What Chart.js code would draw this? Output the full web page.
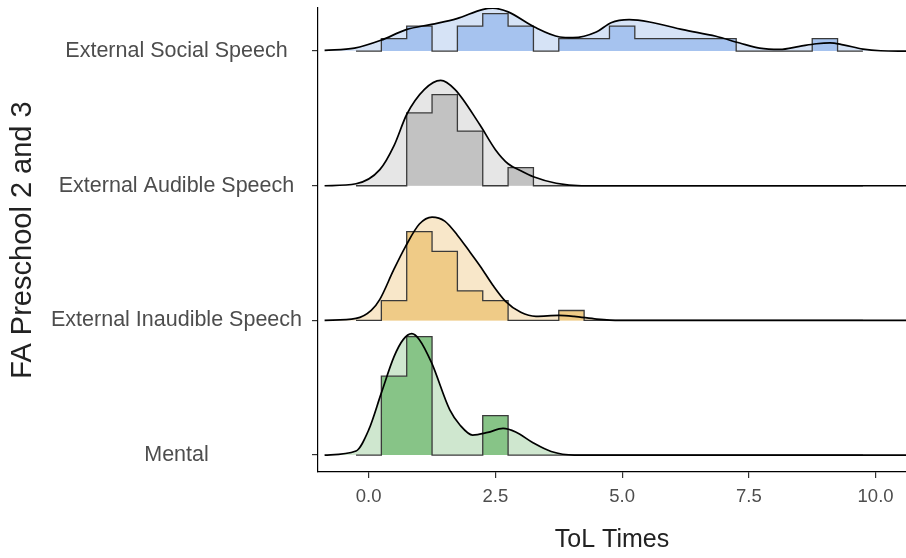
<!DOCTYPE html>
<html>
<head>
<meta charset="utf-8">
<script src="https://cdn.jsdelivr.net/npm/chart.js@4.4.1/dist/chart.umd.min.js"></script>
<style>
    html, body { margin: 0; padding: 0; background: #fff; }
    #wrap { width: 906px; height: 558px; }
</style>
</head>
<body>
<div id="wrap"><canvas id="ridgeChart" width="906" height="558"></canvas></div>
<script>
// rows, bottom to top
const categories = ['Mental', 'External Inaudible Speech', 'External Audible Speech', 'External Social Speech'];
const xTickValues = [0, 2.5, 5, 7.5, 10];
const xTickLabels = ['0.0', '2.5', '5.0', '7.5', '10.0'];

// histogram bins (width 0.5, first edge at -0.25)
const binStart = -0.25;
const binWidth = 0.5;
const countsMental     = [0, 2, 3, 0, 0, 1, 0, 0, 0, 0, 0, 0, 0, 0, 0, 0, 0, 0, 0, 0];
const countsInaudible  = [0, 2, 9, 7, 3, 2, 0, 0, 1, 0, 0, 0, 0, 0, 0, 0, 0, 0, 0, 0];
const countsAudible    = [0, 0, 4, 5, 3, 0, 1, 0, 0, 0, 0, 0, 0, 0, 0, 0, 0, 0, 0, 0];
const countsSocial     = [0, 1, 2, 0, 2, 3, 2, 0, 1, 1, 2, 1, 1, 1, 1, 0, 0, 0, 1, 0];

// density curves (x, density)
const densXMental = [-0.87, -0.25, 0.0, 0.25, 0.5, 0.68, 0.85, 1.0, 1.24, 1.6, 1.8, 2.05, 2.35, 2.65, 2.9, 3.25, 3.6, 4.06, 10.6];
const densMental  = [0, 0.034, 0.212, 0.525, 0.831, 0.975, 1.025, 0.975, 0.78, 0.381, 0.254, 0.169, 0.191, 0.225, 0.195, 0.102, 0.03, 0, 0];

const densXInaudible = [-0.87, -0.25, 0.05, 0.22, 0.49, 0.72, 1.0, 1.25, 1.5, 1.75, 2.0, 2.2, 2.45, 2.7, 3.0, 3.3, 3.75, 4.05, 4.5, 4.95, 10.6];
const densInaudible  = [0, 0.017, 0.085, 0.178, 0.424, 0.619, 0.814, 0.873, 0.839, 0.72, 0.576, 0.458, 0.297, 0.161, 0.068, 0.034, 0.042, 0.034, 0.011, 0, 0];

const densXAudible = [-0.87, -0.25, 0.22, 0.5, 0.75, 1.1, 1.42, 1.7, 2.19, 2.5, 2.75, 3.0, 3.25, 3.7, 4.2, 10.6];
const densAudible  = [0, 0.017, 0.136, 0.339, 0.602, 0.814, 0.89, 0.814, 0.517, 0.305, 0.186, 0.127, 0.076, 0.021, 0, 0];

const densXSocial = [-0.87, -0.28, 0.24, 0.74, 1.24, 1.74, 2.26, 2.45, 2.75, 3.27, 3.77, 4.03, 4.49, 4.78, 5.14, 5.54, 6.2, 6.85, 7.32, 7.71, 8.11, 8.5, 8.83, 9.1, 9.36, 9.75, 10.1, 10.6];
const densSocial  = [0.006, 0.025, 0.091, 0.181, 0.226, 0.274, 0.353, 0.362, 0.331, 0.203, 0.119, 0.113, 0.161, 0.24, 0.265, 0.246, 0.181, 0.125, 0.068, 0.025, 0.014, 0.04, 0.062, 0.07, 0.053, 0.017, 0.003, 0];

const groups = [
    { counts: countsMental,    dx: densXMental,    dy: densMental,    fillLight: '#cfe7cf', fillDark: '#87c487' },
    { counts: countsInaudible, dx: densXInaudible, dy: densInaudible, fillLight: '#f8e7c9', fillDark: '#efcb87' },
    { counts: countsAudible,   dx: densXAudible,   dy: densAudible,   fillLight: '#e6e6e6', fillDark: '#c2c2c2' },
    { counts: countsSocial,    dx: densXSocial,    dy: densSocial,    fillLight: '#d6e3f6', fillDark: '#a6c3ef' }
];

const rowScale = 0.879; // ridge height per density unit
const FONT = "'Liberation Sans', Arial, sans-serif";

const datasets = [];
groups.forEach((g, gi) => {
    const base = gi + 1;
    const n = g.counts.reduce((a, b) => a + b, 0);

    const densPts = g.dx.map((x, i) => ({ x: x, y: base + g.dy[i] * rowScale }));

    const histPts = [];
    g.counts.forEach((c, i) => {
        const h = base + (c / (n * binWidth)) * rowScale;
        const left = binStart + i * binWidth;
        if (i === 0) histPts.push({ x: left, y: base });
        histPts.push({ x: left, y: h });
        histPts.push({ x: left + binWidth, y: h });
    });
    histPts.push({ x: binStart + g.counts.length * binWidth, y: base });

    // density fill
    datasets.push({
        data: densPts, borderWidth: 0, pointRadius: 0,
        backgroundColor: g.fillLight, fill: { value: base },
        cubicInterpolationMode: 'monotone'
    });
    // histogram
    datasets.push({
        data: histPts, borderWidth: 1.3, borderColor: '#3a3a3a', pointRadius: 0,
        backgroundColor: g.fillDark, fill: { value: base }, tension: 0
    });
    // density outline
    datasets.push({
        data: densPts, borderWidth: 1.7, borderColor: '#000', pointRadius: 0,
        fill: false, cubicInterpolationMode: 'monotone'
    });
});
// first in list drawn first
datasets.forEach((d, i) => { d.order = datasets.length - i; });

new Chart(document.getElementById('ridgeChart'), {
    type: 'line',
    data: { datasets: datasets },
    options: {
        responsive: false,
        animation: false,
        layout: { padding: { top: 8, right: 0, bottom: 0, left: 0 } },
        plugins: { legend: { display: false }, tooltip: { enabled: false } },
        scales: {
            x: {
                type: 'linear', min: -1.0, max: 10.6,
                afterBuildTicks: (s) => { s.ticks = xTickValues.map(v => ({ value: v })); },
                afterFit: (s) => { s.height = 86; s.paddingLeft = 0; s.paddingRight = 0; },
                grid: { drawOnChartArea: false, drawTicks: true, tickLength: 6, color: '#333', lineWidth: 1.2 },
                border: { display: true, color: '#000', width: 1.2 },
                ticks: {
                    autoSkip: false, maxRotation: 0, padding: 8, color: '#4d4d4d',
                    font: { family: FONT, size: 18.5 },
                    callback: (v, i) => xTickLabels[i]
                },
                title: { display: true, text: 'ToL Times', color: '#222', padding: { top: 4, bottom: 3 }, font: { family: FONT, size: 25 } }
            },
            y: {
                type: 'linear', min: 0.874, max: 4.32,
                afterBuildTicks: (s) => { s.ticks = categories.map((c, i) => ({ value: i + 1 })); },
                afterFit: (s) => { s.width = 318; s.paddingTop = 0; s.paddingBottom = 0; },
                grid: { drawOnChartArea: false, drawTicks: true, tickLength: 6, color: '#333', lineWidth: 1.2 },
                border: { display: true, color: '#000', width: 1.2 },
                ticks: {
                    autoSkip: false, padding: 10, color: '#4d4d4d', crossAlign: 'center',
                    font: { family: FONT, size: 21.5 },
                    callback: (v) => categories[Math.round(v) - 1]
                },
                title: { display: true, text: 'FA Preschool 2 and 3', color: '#222', padding: { top: 6, bottom: 4 }, font: { family: FONT, size: 29 } }
            }
        }
    }
});
</script>
</body>
</html>
